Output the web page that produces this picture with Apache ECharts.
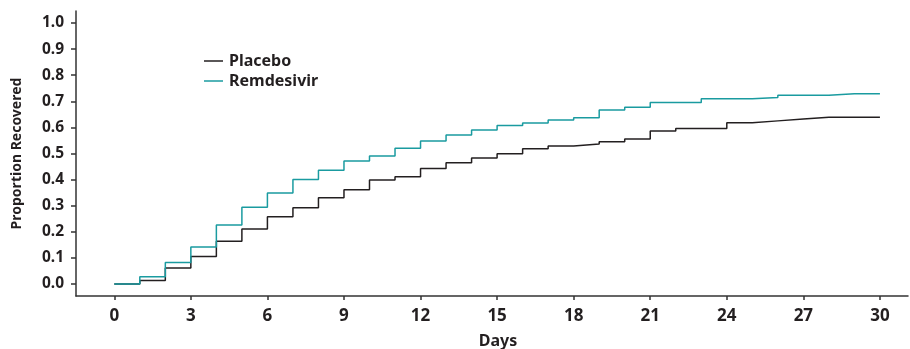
<!DOCTYPE html>
<html>
<head>
<meta charset="utf-8">
<script src="https://cdn.jsdelivr.net/npm/echarts@6/dist/echarts.min.js"></script>
<style>
  html, body { margin: 0; padding: 0; background: #fff; }
  #chart { width: 910px; height: 349px; }
</style>
</head>
<body>
<div id="chart"></div>
<script>
  // days since randomization
  const days = [0,1,2,3,4,5,6,7,8,9,10,11,12,13,14,15,16,17,18,19,20,21,22,23,24,25,26,27,28,29,30]
  // cumulative proportion recovered, level from that day on
  const placebo = [0,0.013,0.061,0.105,0.164,0.211,0.258,0.292,0.330,0.361,0.398,0.411,0.443,0.465,0.483,0.499,0.518,0.529,0.536,0.545,0.556,0.586,0.596,0.596,0.618,0.625,0.632,0.639,0.639,0.639,0.639]
  const remdesivir = [0,0.028,0.082,0.142,0.226,0.294,0.349,0.400,0.436,0.471,0.490,0.520,0.548,0.571,0.590,0.607,0.617,0.628,0.637,0.667,0.677,0.695,0.695,0.710,0.710,0.715,0.723,0.723,0.729,0.729,0.729]
  const xTicks = [0,3,6,9,12,15,18,21,24,27,30]
  const yTicks = [0,0.1,0.2,0.3,0.4,0.5,0.6,0.7,0.8,0.9,1.0]

  const ink = '#231f20'
  const teal = '#1a9ba0'
  const font = 'Noto Sans'

  const mChart = echarts.init(document.getElementById('chart'))
  const option = {
    animation: false,
    textStyle: { fontFamily: font },
    legend: {
      orient: 'vertical',
      left: 204,
      top: 53,
      padding: 0,
      icon: 'rect',
      itemWidth: 19,
      itemHeight: 1.5,
      itemGap: 4,
      textStyle: { color: ink, fontSize: 16, fontWeight: 'bold', fontFamily: font, padding: [0, 0, 0, 1] },
      data: [
        { name: 'Placebo', itemStyle: { color: ink } },
        { name: 'Remdesivir', itemStyle: { color: teal } }
      ]
    },
    grid: { left: 76, right: 2, top: 11, bottom: 53, outerBoundsMode: 'none' },
    xAxis: {
      type: 'value',
      min: -1.5,
      max: 31.1,
      name: 'Days',
      nameLocation: 'middle',
      nameGap: 37,
      nameTextStyle: { color: ink, fontSize: 16, fontWeight: 'bold', padding: [0, 0, 0, 12] },
      axisLine: { show: true, onZero: false, lineStyle: { color: '#333', width: 1.5 } },
      axisTick: { show: true, inside: false, length: 4, customValues: xTicks, lineStyle: { color: '#333', width: 1.5 } },
      axisLabel: { customValues: xTicks, color: ink, fontSize: 17, fontWeight: 'bold', margin: 12 },
      splitLine: { show: false }
    },
    yAxis: {
      type: 'value',
      min: -0.046,
      max: 1.046,
      name: 'Proportion Recovered',
      nameLocation: 'middle',
      nameGap: 52,
      nameTextStyle: { color: ink, fontSize: 14, fontWeight: 'bold' },
      axisLine: { show: true, onZero: false, lineStyle: { color: '#333', width: 1.5 } },
      axisTick: { show: true, length: 5, customValues: yTicks, lineStyle: { color: '#333', width: 1.5 } },
      axisLabel: {
        customValues: yTicks,
        color: ink,
        fontSize: 15.5,
        fontWeight: 'bold',
        margin: 12,
        formatter: v => v.toFixed(1)
      },
      splitLine: { show: false }
    },
    series: [
      {
        name: 'Placebo',
        type: 'line',
        step: 'end',
        symbol: 'none',
        lineStyle: { color: ink, width: 1.5 },
        itemStyle: { color: ink },
        data: days.map((d, i) => [d, placebo[i]])
      },
      {
        name: 'Remdesivir',
        type: 'line',
        step: 'end',
        symbol: 'none',
        lineStyle: { color: teal, width: 1.5 },
        itemStyle: { color: teal },
        data: days.map((d, i) => [d, remdesivir[i]])
      }
    ]
  }
  mChart.setOption(option)
  window.addEventListener('resize', function() {
    mChart.resize()
  })
</script>
</body>
</html>
